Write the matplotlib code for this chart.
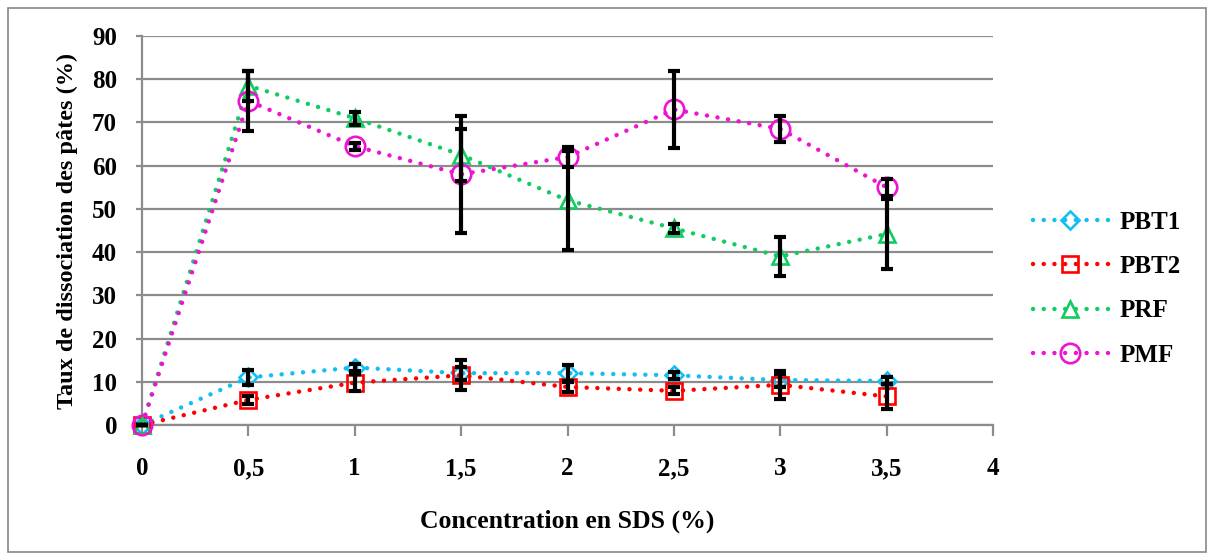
import matplotlib.pyplot as plt
from matplotlib.patches import Rectangle

# concentrations (%)
conc = [0, 0.5, 1, 1.5, 2, 2.5, 3, 3.5]

pbt1 = [0, 11, 13.3, 12, 12, 11.5, 10.4, 10.2]
pbt1_err = [0, 1.7, 0.8, 1.5, 1.8, 0.8, 1.5, 0.8]

pbt2 = [0, 5.8, 9.8, 11.5, 8.8, 7.9, 9.3, 6.6]
pbt2_err = [0, 1.0, 2.0, 3.5, 1.2, 0.8, 3.3, 3.0]

prf = [0, 78.5, 71, 62.5, 52, 45.5, 39, 44.2]
prf_err = [0, 3.5, 1.5, 6, 11.5, 1, 4.5, 8]

pmf = [0, 75, 64.5, 58, 62, 73, 68.5, 55]
pmf_err = [0, 7, 0.8, 13.5, 2.3, 9, 3, 2]

names = ["PBT1", "PBT2", "PRF", "PMF"]
colors = ["#13BFF2", "#FF0000", "#12CC62", "#EE12D2"]
markers = ["D", "s", "^", "o"]
msizes = [9, 11, 12, 14]

plt.rcParams['font.family'] = ['Liberation Serif', 'DejaVu Serif']
plt.rcParams['font.weight'] = 'bold'

fig = plt.figure(figsize=(12.14, 5.6), dpi=100)
fig.patches.append(Rectangle((8/1214, 8/560), 1198/1214, 544/560, transform=fig.transFigure,
                             fill=False, edgecolor='#888888', lw=1.2))
ax = fig.add_axes([142/1214, 1-425/560, 851/1214, 389/560])

series = [(pbt1, pbt1_err), (pbt2, pbt2_err), (prf, prf_err), (pmf, pmf_err)]
for (vals, errs), name, c, m, ms in zip(series, names, colors, markers, msizes):
    ax.plot(conc, vals, color=c, lw=3.2, linestyle=(0, (0.01, 2.4)), dash_capstyle='round',
            marker=m, markersize=ms, markerfacecolor='none', markeredgecolor=c,
            markeredgewidth=1.9, label=name, clip_on=False, zorder=3)
for (vals, errs) in series:
    ax.errorbar(conc, vals, yerr=errs, fmt='none', ecolor='black', elinewidth=3,
                capsize=4, capthick=3, zorder=4, clip_on=False)

ax.set_xlim(0, 4)
ax.set_ylim(0, 90)
ax.set_xticks([0, 0.5, 1, 1.5, 2, 2.5, 3, 3.5, 4])
ax.set_xticklabels(["0", "0,5", "1", "1,5", "2", "2,5", "3", "3,5", "4"])
ax.set_yticks(range(0, 91, 10))
ax.yaxis.grid(True, color='#8c8c8c', lw=1.6)
ax.set_axisbelow(True)
for s in ['top', 'right']:
    ax.spines[s].set_visible(False)
for s in ['left', 'bottom']:
    ax.spines[s].set_color('#8c8c8c')
    ax.spines[s].set_linewidth(1.6)
ax.tick_params(axis='y', length=4, width=1.6, color='#8c8c8c', pad=14, labelsize=18)
ax.tick_params(axis='x', length=8, width=1.6, color='#8c8c8c', pad=15, labelsize=18)
for lab in ax.get_xticklabels() + ax.get_yticklabels():
    lab.set_fontweight('bold')

ax.set_xlabel("Concentration en SDS (%)", fontsize=18.5, fontweight='bold', labelpad=21)
ax.set_ylabel("Taux de dissociation des pâtes (%)", fontsize=17.5, fontweight='bold', labelpad=10)

leg = ax.legend(loc='center left', bbox_to_anchor=(1.02, 0.35), frameon=False,
                fontsize=18, handlelength=3.0, labelspacing=0.85, handletextpad=0.5)
for t in leg.get_texts():
    t.set_fontweight('bold')

fig.savefig("out.png", dpi=100)
